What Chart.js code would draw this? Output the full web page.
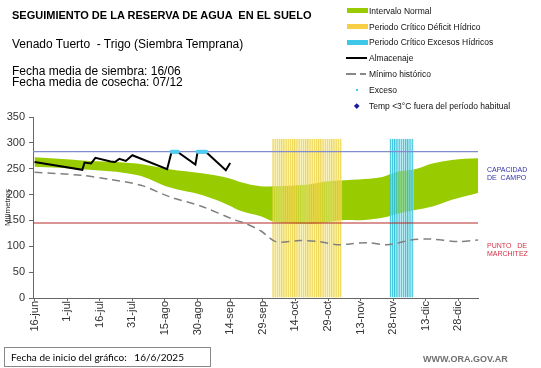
<!DOCTYPE html>
<html lang="es">
<head>
<meta charset="utf-8">
<title>Seguimiento de la reserva de agua en el suelo</title>
<script src="https://cdn.jsdelivr.net/npm/chart.js@4.4.0/dist/chart.umd.min.js"></script>
<style>
	body { margin: 0; background: #fff; }
	#wrap {
		position: relative;
		width: 541px;
		height: 368px;
		overflow: hidden;
		font-family: "Liberation Sans", Arial, sans-serif;
	}
	#wrap canvas { position: absolute; left: 0; top: 0; }
	.txt { position: absolute; white-space: pre; color: #000; }
	.sw { position: absolute; }
	.leg { position: absolute; left: 369px; font-size: 8.5px; line-height: 10px; white-space: nowrap; color: #111; }
</style>
</head>
<body>
<div id="wrap">
	<canvas id="chart" width="541" height="368"></canvas>

	<!-- Encabezado -->
	<div class="txt" style="left:12px; top:9px; font-size:11px; line-height:12px; font-weight:bold;">SEGUIMIENTO DE LA RESERVA DE AGUA  EN EL SUELO</div>
	<div class="txt" style="left:12px; top:37px; font-size:12px; line-height:14px;">Venado Tuerto  - Trigo (Siembra Temprana)</div>
	<div class="txt" style="left:12px; top:66px; font-size:12px; line-height:11px;">Fecha media de siembra: 16/06
Fecha media de cosecha: 07/12</div>

	<!-- Leyenda -->
	<div class="sw" style="left:347px; top:8px; width:21px; height:5px; background:rgb(153,204,0);"></div>
	<div class="leg" style="top:6px;">Intervalo Normal</div>
	<div class="sw" style="left:347px; top:24px; width:21px; height:5px; background:rgb(248,206,70);"></div>
	<div class="leg" style="top:22px;">Periodo Crítico Déficit Hídrico</div>
	<div class="sw" style="left:347px; top:40px; width:21px; height:5px; background:rgb(60,200,230);"></div>
	<div class="leg" style="top:37px;">Periodo Crítico Excesos Hídricos</div>
	<div class="sw" style="left:346px; top:57px; width:21px; height:2px; background:#000;"></div>
	<div class="leg" style="top:53px;">Almacenaje</div>
	<div class="sw" style="left:346px; top:73px; width:10px; height:1.5px; background:#888;"></div>
	<div class="sw" style="left:360px; top:73px; width:6px; height:1.5px; background:#888;"></div>
	<div class="leg" style="top:69px;">Mínimo histórico</div>
	<div class="sw" style="left:356px; top:89px; width:2px; height:2px; background:rgb(60,200,240);"></div>
	<div class="leg" style="top:85px;">Exceso</div>
	<div class="sw" style="left:355px; top:104px; width:3.5px; height:3.5px; background:#1a1a9a; transform:rotate(45deg);"></div>
	<div class="leg" style="top:101px;">Temp &lt;3°C fuera del período habitual</div>

	<!-- Etiquetas de referencia -->
	<div class="txt" style="left:487px; top:166px; font-size:7px; line-height:8px; color:rgb(50,50,170);">CAPACIDAD
DE  CAMPO</div>
	<div class="txt" style="left:487px; top:242px; font-size:7px; line-height:8px; color:rgb(210,50,70);">PUNTO   DE
MARCHITEZ</div>

	<!-- Pie -->
	<div class="txt" style="left:4px; top:347px; border:1px solid #888; font-family:Lato, 'Open Sans', sans-serif; font-size:10px; line-height:18px; padding-left:6px; box-sizing:border-box; width:207px; height:20px;">Fecha de inicio del gráfico:   16/6/2025</div>
	<div class="txt" style="left:423px; top:354px; font-size:9px; line-height:10px; font-weight:bold; color:#707070;">WWW.ORA.GOV.AR</div>
</div>

<script>
// Eje X: días desde el 16/6/2025
const X_MIN = -0.7;
const X_MAX = 204;
const tickDays = [0, 15, 30, 45, 60, 75, 90, 105, 120, 135, 150, 165, 180, 195];
const tickLabels = ["16-jun", "1-jul", "16-jul", "31-jul", "15-ago", "30-ago", "14-sep",
	"29-sep", "14-oct", "29-oct", "13-nov", "28-nov", "13-dic", "28-dic"];

// Intervalo normal (límite superior e inferior)
const normalDays = [0, 22, 47, 62, 77, 89, 95, 104, 110, 125, 132, 140, 152, 160, 167, 175, 183, 192, 204];
const normalUpper = [272, 266, 260, 249, 241, 232, 224, 216, 216, 219, 224, 227, 230, 234, 244, 249, 260, 267, 270];
const normalLower = [254, 249, 238, 214, 199, 180, 168, 158, 148, 143, 145, 150, 151, 155, 163, 170, 177, 190, 203];

// Almacenaje observado
const almacDays = [0, 22, 23, 26, 28, 35, 37, 39, 42, 45, 61, 63, 66, 74, 75, 79, 88, 90];
const almacValues = [263, 248, 262, 260, 271, 264, 263, 269, 265, 276, 249, 282, 282, 258, 282, 282, 247, 261];

// Días con exceso
const excesoDays = [63, 64, 65, 66, 67, 75, 76, 77, 78, 79];
const excesoValues = [283, 283, 283, 283, null, 283, 283, 283, 283, 283];

// Mínimo histórico
const minDays = [0, 22, 35, 49, 62, 77, 92, 96, 104, 111, 122, 131, 139, 146, 153, 162, 167, 173, 182, 195, 204];
const minValues = [243, 237, 229, 218, 196, 177, 151, 146, 130, 109, 111, 109, 103, 105, 107, 103, 106, 112, 114, 109, 112];

// Periodos críticos
const deficitDays = [];
for (let d = 110; d <= 141; d++) deficitDays.push(d);
const excesosDays = [];
for (let d = 164; d <= 174; d++) excesosDays.push(d);
const periodoTop = 308;

// Umbrales
const capacidadCampo = 283;
const puntoMarchitez = 145;

const toPts = (xs, ys) => xs.map((x, i) => ({ x: x, y: ys[i] }));
const flat = (v) => [{ x: X_MIN, y: v }, { x: X_MAX, y: v }];

const ctx = document.getElementById("chart").getContext("2d");

new Chart(ctx, {
	type: "line",
	data: {
		datasets: [
			{
				label: "Exceso",
				data: toPts(excesoDays, excesoValues),
				borderColor: "rgb(80,205,240)",
				borderWidth: 4,
				borderCapStyle: "round",
				pointRadius: 0,
				spanGaps: false,
				order: 0,
			},
			{
				label: "Almacenaje",
				data: toPts(almacDays, almacValues),
				borderColor: "#000",
				borderWidth: 2,
				pointRadius: 0,
				tension: 0,
				order: 1,
			},
			{
				label: "Mínimo histórico",
				data: toPts(minDays, minValues),
				borderColor: "#808080",
				borderWidth: 1.5,
				borderDash: [8, 5],
				pointRadius: 0,
				tension: 0.3,
				order: 2,
			},
			{
				label: "Capacidad de campo",
				data: flat(capacidadCampo),
				borderColor: "rgb(128,140,205)",
				borderWidth: 1.3,
				pointRadius: 0,
				order: 3,
			},
			{
				label: "Punto de marchitez",
				data: flat(puntoMarchitez),
				borderColor: "rgb(180,40,40)",
				borderWidth: 1,
				pointRadius: 0,
				order: 3,
			},
			{
				type: "bar",
				label: "Periodo Crítico Déficit Hídrico",
				data: deficitDays.map((d) => ({ x: d, y: periodoTop })),
				backgroundColor: "rgba(250,240,160,0.4)",
				borderColor: "rgba(235,208,60,0.85)",
				borderWidth: { left: 1, right: 0, top: 0, bottom: 0 },
				barPercentage: 1,
				categoryPercentage: 1,
				grouped: false,
				order: 4,
			},
			{
				type: "bar",
				label: "Periodo Crítico Excesos Hídricos",
				data: excesosDays.map((d) => ({ x: d, y: periodoTop })),
				backgroundColor: "rgba(180,235,245,0.45)",
				borderColor: "rgba(40,190,215,0.9)",
				borderWidth: { left: 1, right: 0, top: 0, bottom: 0 },
				barPercentage: 1,
				categoryPercentage: 1,
				grouped: false,
				order: 4,
			},
			{
				label: "Intervalo Normal (sup)",
				data: toPts(normalDays, normalUpper),
				borderWidth: 0,
				pointRadius: 0,
				tension: 0.35,
				fill: false,
				order: 6,
			},
			{
				label: "Intervalo Normal",
				data: toPts(normalDays, normalLower),
				borderWidth: 0,
				pointRadius: 0,
				tension: 0.35,
				backgroundColor: "rgb(153,204,0)",
				fill: "-1",
				order: 6,
			},
		],
	},
	options: {
		responsive: false,
		animation: false,
		layout: { padding: { top: 117, right: 63, bottom: 0, left: 0 } },
		plugins: {
			legend: { display: false },
			tooltip: { enabled: false },
		},
		scales: {
			x: {
				type: "linear",
				min: X_MIN,
				max: X_MAX,
				offset: false,
				afterBuildTicks: (scale) => {
					scale.ticks = tickDays.map((v) => ({ value: v }));
				},
				afterFit: (scale) => {
					scale.height = 70;
				},
				ticks: {
					autoSkip: false,
					minRotation: 90,
					maxRotation: 90,
					padding: 0,
					color: "#333",
					font: { family: "Liberation Sans", size: 11 },
					callback: (value, index) => tickLabels[index],
				},
				grid: {
					offset: false,
					drawOnChartArea: false,
					drawTicks: true,
					tickLength: 3,
					color: "#666",
				},
				border: { display: true, color: "#666", width: 1 },
			},
			y: {
				min: 0,
				max: 350,
				afterFit: (scale) => {
					scale.width = 33;
				},
				ticks: {
					stepSize: 50,
					padding: 4,
					color: "#333",
					font: { family: "Liberation Sans", size: 11 },
				},
				grid: {
					drawOnChartArea: false,
					drawTicks: true,
					tickLength: 4,
					color: "#666",
				},
				border: { display: true, color: "#666", width: 1 },
				title: {
					display: true,
					text: "Milímetros",
					color: "#333",
					font: { family: "Liberation Sans", size: 8 },
					padding: { top: 3, bottom: 0 },
				},
			},
		},
	},
});
</script>
</body>
</html>
